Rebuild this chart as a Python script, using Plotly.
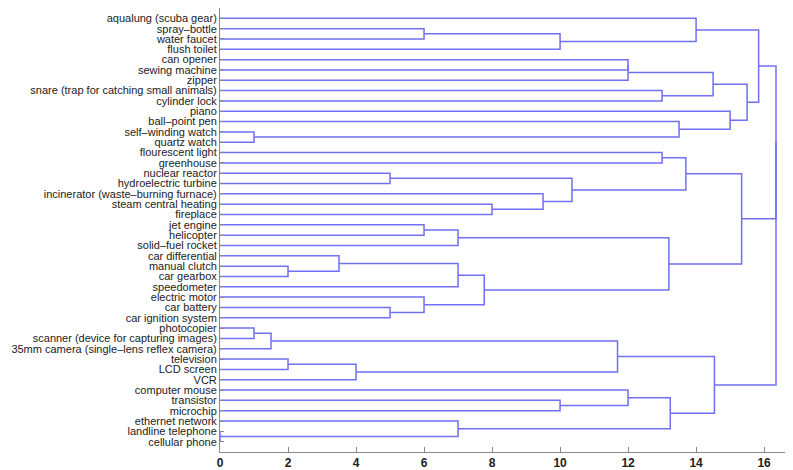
import plotly.graph_objects as go

# Leaf labels, top to bottom
labels = [
    "aqualung (scuba gear)", "spray\u2013bottle", "water faucet", "flush toilet",
    "can opener", "sewing machine", "zipper",
    "snare (trap for catching small animals)", "cylinder lock", "piano",
    "ball\u2013point pen", "self\u2013winding watch", "quartz watch",
    "flourescent light", "greenhouse", "nuclear reactor", "hydroelectric turbine",
    "incinerator (waste\u2013burning furnace)", "steam central heating", "fireplace",
    "jet engine", "helicopter", "solid\u2013fuel rocket", "car differential",
    "manual clutch", "car gearbox", "speedometer", "electric motor", "car battery",
    "car ignition system", "photocopier", "scanner (device for capturing images)",
    "35mm camera (single\u2013lens reflex camera)", "television", "LCD screen", "VCR",
    "computer mouse", "transistor", "microchip", "ethernet network",
    "landline telephone", "cellular phone",
]

# Linkage: node ids 0..41 are leaves, 42+k is the k-th merge
merge_left = [40, 11, 30, 44, 24, 33, 23, 47, 15, 28, 1, 20, 27, 53, 48, 39, 56,
              18, 17, 52, 37, 50, 45, 4, 65, 36, 7, 13, 55, 67, 10, 69, 0, 66, 64,
              9, 73, 75, 74, 80, 81]
merge_right = [41, 12, 31, 32, 25, 34, 46, 35, 16, 29, 2, 21, 51, 22, 26, 42, 54,
               19, 59, 3, 38, 60, 49, 5, 6, 62, 8, 14, 58, 57, 43, 63, 61, 68, 71,
               72, 70, 77, 79, 78, 76]
merge_height = [0.0, 1.0, 1.0, 1.5, 2.0, 2.0, 3.5, 4.0, 5.0, 5.0, 6.0, 6.0, 6.0,
                7.0, 7.0, 7.0, 7.77, 8.0, 9.5, 10.0, 10.0, 10.35, 11.69, 12.0,
                12.0, 12.0, 13.0, 13.0, 13.2, 13.24, 13.5, 13.7, 14.0, 14.5,
                14.54, 15.0, 15.34, 15.5, 15.84, 16.35, 16.35]

x_ticks = [0, 2, 4, 6, 8, 10, 12, 14, 16]

n = len(labels)
pos_y = {i: i + 1 for i in range(n)}
pos_h = {i: 0.0 for i in range(n)}
xs, ys = [], []
for k, (a, b, h) in enumerate(zip(merge_left, merge_right, merge_height)):
    ya, yb = pos_y[a], pos_y[b]
    xs += [pos_h[a], h, h, pos_h[b], None]
    ys += [ya, ya, yb, yb, None]
    pos_y[n + k] = (ya + yb) / 2
    pos_h[n + k] = h

fig = go.Figure(go.Scatter(
    x=xs, y=ys, mode="lines",
    line=dict(color="rgb(112,112,240)", width=1.5),
    hoverinfo="skip", showlegend=False,
))

# page body has an 8px margin, so the figure is sized to end at the window edge
fig.update_layout(
    width=785, height=462,
    margin=dict(l=212, r=0, t=0, b=16),
    plot_bgcolor="white", paper_bgcolor="white",
    font=dict(family="Liberation Sans, Arial, sans-serif", color="#222"),
)
fig.update_xaxes(
    range=[0, 16.85], tickvals=x_ticks, ticktext=[str(v) for v in x_ticks],
    ticks="inside", ticklen=5, tickcolor="#888", showline=True,
    linecolor="#888", linewidth=1, showgrid=False, zeroline=False,
    tickfont=dict(size=12, weight="bold", color="#222"),
)
fig.update_yaxes(
    range=[43, 0], tickvals=list(range(1, n + 1)), ticktext=labels,
    ticks="inside", ticklen=4, tickcolor="#888", showline=True,
    linecolor="#888", linewidth=1, showgrid=False, zeroline=False,
    tickfont=dict(size=11, color="#222"),
)

fig.write_html("out.html")
